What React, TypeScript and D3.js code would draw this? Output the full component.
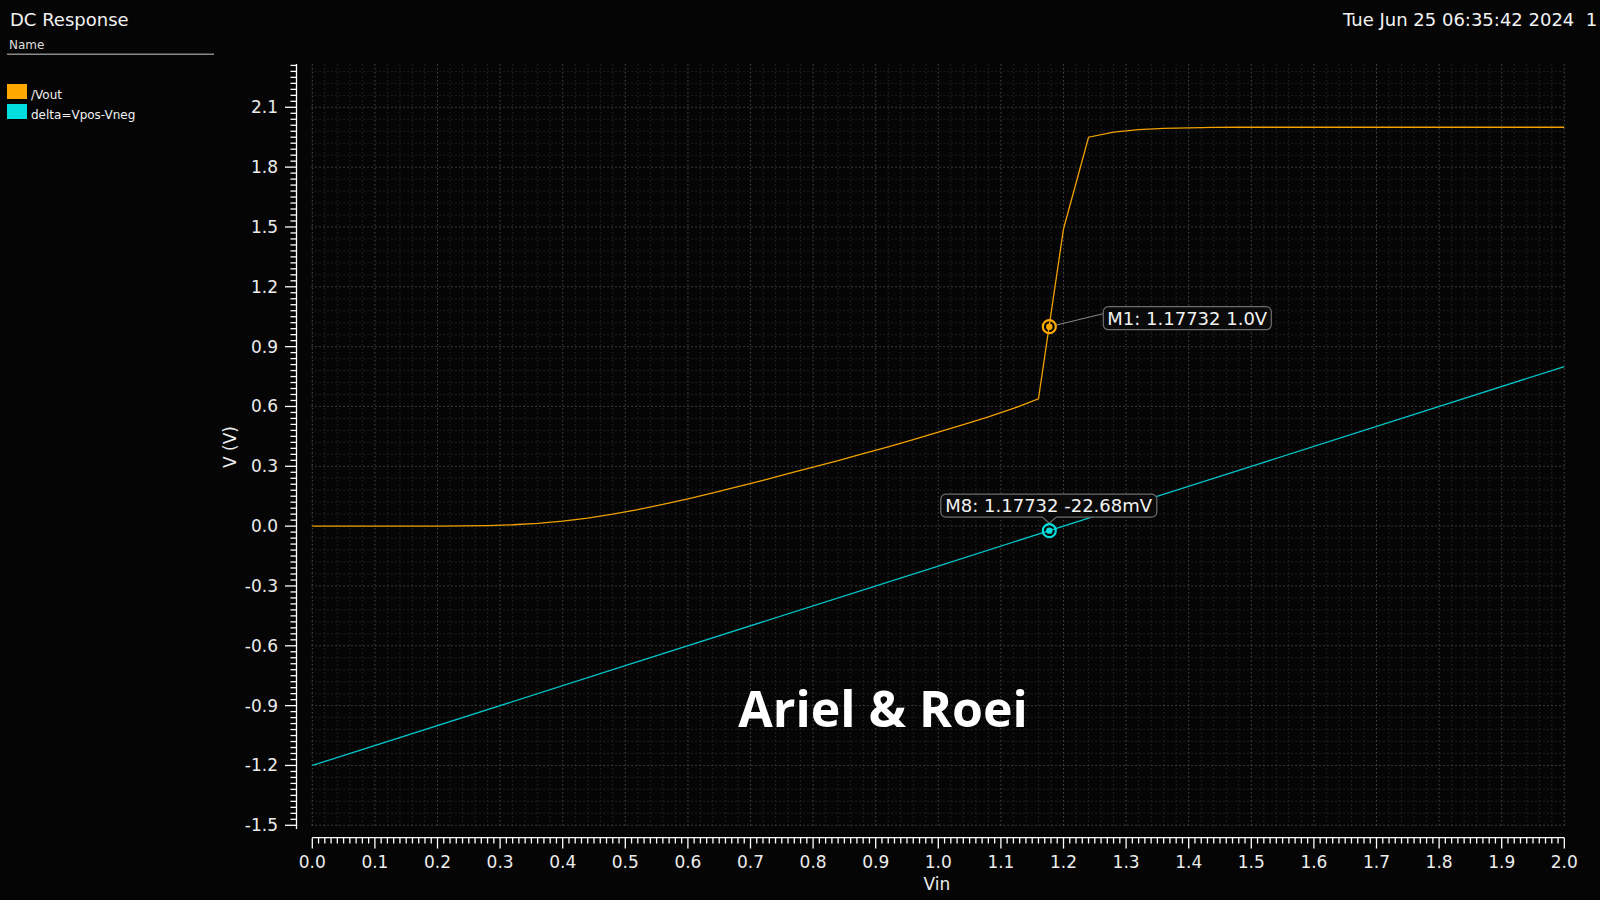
import React from "react";
import * as d3 from "d3";

// ---- data ----
const vinOut = [
  0.0, 0.04, 0.08, 0.12, 0.16, 0.2, 0.24, 0.28, 0.32, 0.36, 0.4, 0.44, 0.48, 0.52, 0.56, 0.6,
  0.64, 0.68, 0.72, 0.76, 0.8, 0.84, 0.88, 0.92, 0.96, 1.0, 1.04, 1.08, 1.12, 1.16, 1.2, 1.24,
  1.28, 1.32, 1.36, 1.4, 1.44, 1.48, 1.52, 1.56, 1.6, 1.64, 1.68, 1.72, 1.76, 1.8, 1.84, 1.88,
  1.92, 1.96, 2.0,
];
const vout = [
  0, 0, 0, 0, 0, 0.0005, 0.001, 0.003, 0.007, 0.014, 0.025, 0.04, 0.06, 0.083, 0.109, 0.137,
  0.167, 0.198, 0.23, 0.263, 0.296, 0.329, 0.363, 0.398, 0.434, 0.471, 0.509, 0.548, 0.59, 0.638,
  1.49, 1.95, 1.976, 1.988, 1.994, 1.997, 1.999, 2.0, 2.0, 2.0, 2.0, 2.0, 2.0, 2.0, 2.0, 2.0,
  2.0, 2.0, 2.0, 2.0, 2.0,
];
const vinDelta = [0.0, 0.5, 1.0, 1.5, 2.0];
const delta = [-1.2, -0.7, -0.2, 0.3, 0.8];

const xTicks = [0.0, 0.1, 0.2, 0.3, 0.4, 0.5, 0.6, 0.7, 0.8, 0.9, 1.0, 1.1, 1.2, 1.3, 1.4, 1.5, 1.6, 1.7, 1.8, 1.9, 2.0];
const yTicks = [-1.5, -1.2, -0.9, -0.6, -0.3, 0.0, 0.3, 0.6, 0.9, 1.2, 1.5, 1.8, 2.1];

const legendNames = ["/Vout", "delta=Vpos-Vneg"];
const legendColors = ["#ffa800", "#00dede"];
const lineColors = ["#f0a000", "#00c4c8"];

const markers = [
  { id: "M1", x: 1.17732, y: 1.0, label: "M1: 1.17732 1.0V", series: 0 },
  { id: "M8", x: 1.17732, y: -0.02268, label: "M8: 1.17732 -22.68mV", series: 1 },
];

const FONT = "'DejaVu Sans', sans-serif";

const fmt = (v: number) => d3.format(".1f")(v).replace("\u2212", "-");

export default function App() {
  const W = 1600, H = 900;
  const x = d3.scaleLinear().domain([0, 2]).range([312.3, 1564.3]);
  const y = d3.scaleLinear().domain([-1.5, 2.1]).range([825.3, 107.3]);

  const gridTop = 64;
  const gridBottom = 828;
  const axisX = 296.5;
  const axisY = 837.7;

  const r = (v: number) => Math.round(v * 1000) / 1000;
  const minorXGrid = d3.range(0, 101).map((i) => r(i * 0.02));
  const minorYGrid = d3.range(0, 64).map((i) => r(-1.5 + i * 0.06));
  const xMinorTicks = d3.range(0, 201).map((i) => r(i * 0.01));
  const yMinorTicks = d3.range(0, 128).map((i) => r(-1.5 + i * 0.03)).filter((v) => v <= 2.315);

  const lineGen = d3
    .line<[number, number]>()
    .x((d) => x(d[0]))
    .y((d) => y(d[1]));

  const outPath = lineGen(vinOut.map((v, i) => [v, vout[i]] as [number, number])) || "";
  const deltaPath = lineGen(vinDelta.map((v, i) => [v, delta[i]] as [number, number])) || "";

  const isMajorX = (v: number) => Math.abs(v * 10 - Math.round(v * 10)) < 1e-6;
  const isMajorY = (v: number) => Math.abs((v + 1.5) / 0.3 - Math.round((v + 1.5) / 0.3)) < 1e-6;

  const m1 = markers[0];
  const m8 = markers[1];
  const m1x = x(m1.x), m1y = y(m1.y);
  const m8x = x(m8.x), m8y = y(m8.y);

  const L = m8x - 108.5, R = m8x + 107.5, T = m8y - 36.5, B = m8y - 13.5, rr = 5;

  return (
    <svg
      width={W}
      height={H}
      style={{ position: "fixed", left: 0, top: 0, display: "block" }}
      fontFamily={FONT}
    >
      <rect x={0} y={0} width={W} height={H} fill="#050505" />

      {/* minor grid */}
      <g stroke="#262626" strokeWidth={1} strokeDasharray="1.5,2.5">
        {minorXGrid.filter((v) => !isMajorX(v)).map((v) => (
          <line key={"mgx" + v} x1={x(v)} x2={x(v)} y1={gridTop} y2={gridBottom} />
        ))}
        {minorYGrid.filter((v) => !isMajorY(v)).map((v) => (
          <line key={"mgy" + v} x1={x(0) - 1} x2={x(2)} y1={y(v)} y2={y(v)} />
        ))}
      </g>
      {/* major grid */}
      <g stroke="#4a4a4a" strokeWidth={1} strokeDasharray="1.5,2.5">
        {xTicks.map((v) => (
          <line key={"gx" + v} x1={x(v)} x2={x(v)} y1={gridTop} y2={gridBottom} />
        ))}
        {yTicks.map((v) => (
          <line key={"gy" + v} x1={x(0) - 1} x2={x(2)} y1={y(v)} y2={y(v)} />
        ))}
      </g>

      {/* y axis */}
      <g stroke="#ffffff" strokeWidth={1.3}>
        <line x1={axisX} x2={axisX} y1={64} y2={829} />
        {yMinorTicks.map((v) => (
          <line key={"yt" + v} x1={isMajorY(v) ? 285 : 290.5} x2={axisX} y1={y(v)} y2={y(v)} />
        ))}
      </g>
      <g fill="#ececec" fontSize={17} textAnchor="end">
        {yTicks.map((v) => (
          <text key={"yl" + v} x={278} y={y(v) + 6}>
            {fmt(v)}
          </text>
        ))}
      </g>

      {/* x axis */}
      <g stroke="#ffffff" strokeWidth={1.3}>
        <line x1={x(0)} x2={x(2)} y1={axisY} y2={axisY} />
        {xMinorTicks.map((v) => (
          <line key={"xt" + v} x1={x(v)} x2={x(v)} y1={axisY} y2={isMajorX(v) ? 848.5 : 843.5} />
        ))}
      </g>
      <g fill="#ececec" fontSize={17} textAnchor="middle">
        {xTicks.map((v) => (
          <text key={"xl" + v} x={x(v)} y={868}>
            {fmt(v)}
          </text>
        ))}
      </g>

      {/* axis titles */}
      <text x={937} y={890} fill="#ececec" fontSize={17} textAnchor="middle">
        Vin
      </text>
      <text
        x={0}
        y={0}
        fill="#ececec"
        fontSize={17}
        textAnchor="middle"
        transform={`translate(236,447) rotate(-90)`}
      >
        V (V)
      </text>

      {/* watermark */}
      <text
        x={883}
        y={727}
        fill="#ffffff"
        fontSize={50}
        fontWeight="bold"
        fontFamily="'Open Sans', sans-serif"
        textAnchor="middle"
      >
        Ariel &amp; Roei
      </text>

      {/* series */}
      <path d={deltaPath} fill="none" stroke={lineColors[1]} strokeWidth={1.3} />
      <path d={outPath} fill="none" stroke={lineColors[0]} strokeWidth={1.3} />

      {/* M1 marker */}
      <line x1={m1x + 6.5} y1={m1y - 1.5} x2={m1x + 54} y2={m1y - 13} stroke="#888" strokeWidth={1} />
      <rect x={m1x + 54} y={m1y - 20} width={168} height={23} rx={5} fill="#0a0a0a" stroke="#6e6e6e" strokeWidth={1.2} />
      <text x={m1x + 58} y={m1y - 2} fill="#f2f2f2" fontSize={18}>
        {m1.label}
      </text>
      <circle cx={m1x} cy={m1y} r={6.5} fill="none" stroke={legendColors[0]} strokeWidth={2.2} />
      <circle cx={m1x} cy={m1y} r={3.2} fill={legendColors[0]} />

      {/* M8 marker */}
      <path
        d={`M${L + rr},${T} H${R - rr} A${rr},${rr} 0 0 1 ${R},${T + rr} V${B - rr} A${rr},${rr} 0 0 1 ${R - rr},${B} H${m8x + 7} L${m8x},${m8y - 7.5} L${m8x - 7},${B} H${L + rr} A${rr},${rr} 0 0 1 ${L},${B - rr} V${T + rr} A${rr},${rr} 0 0 1 ${L + rr},${T} Z`}
        fill="#0a0a0a"
        stroke="#6e6e6e"
        strokeWidth={1.2}
      />
      <text x={L + 4.5} y={m8y - 19} fill="#f2f2f2" fontSize={18}>
        {m8.label}
      </text>
      <circle cx={m8x} cy={m8y} r={6.5} fill="none" stroke={legendColors[1]} strokeWidth={2.2} />
      <circle cx={m8x} cy={m8y} r={3.2} fill={legendColors[1]} />

      {/* header */}
      <text x={10} y={26} fill="#f2f2f2" fontSize={18}>
        DC Response
      </text>
      <text x={1343} y={26} fill="#f2f2f2" fontSize={18} style={{ whiteSpace: "pre" }}>
        {"Tue Jun 25 06:35:42 2024  1"}
      </text>
      <text x={9} y={49} fill="#dddddd" fontSize={12}>
        Name
      </text>
      <line x1={7} x2={214} y1={54.3} y2={54.3} stroke="#8a8a8a" strokeWidth={1.5} />

      {/* legend */}
      {legendNames.map((name, i) => (
        <g key={name}>
          <rect x={7} y={84 + i * 20} width={20} height={15} fill={legendColors[i]} />
          <text x={31} y={99 + i * 20} fill="#f2f2f2" fontSize={12}>
            {name}
          </text>
        </g>
      ))}
    </svg>
  );
}
